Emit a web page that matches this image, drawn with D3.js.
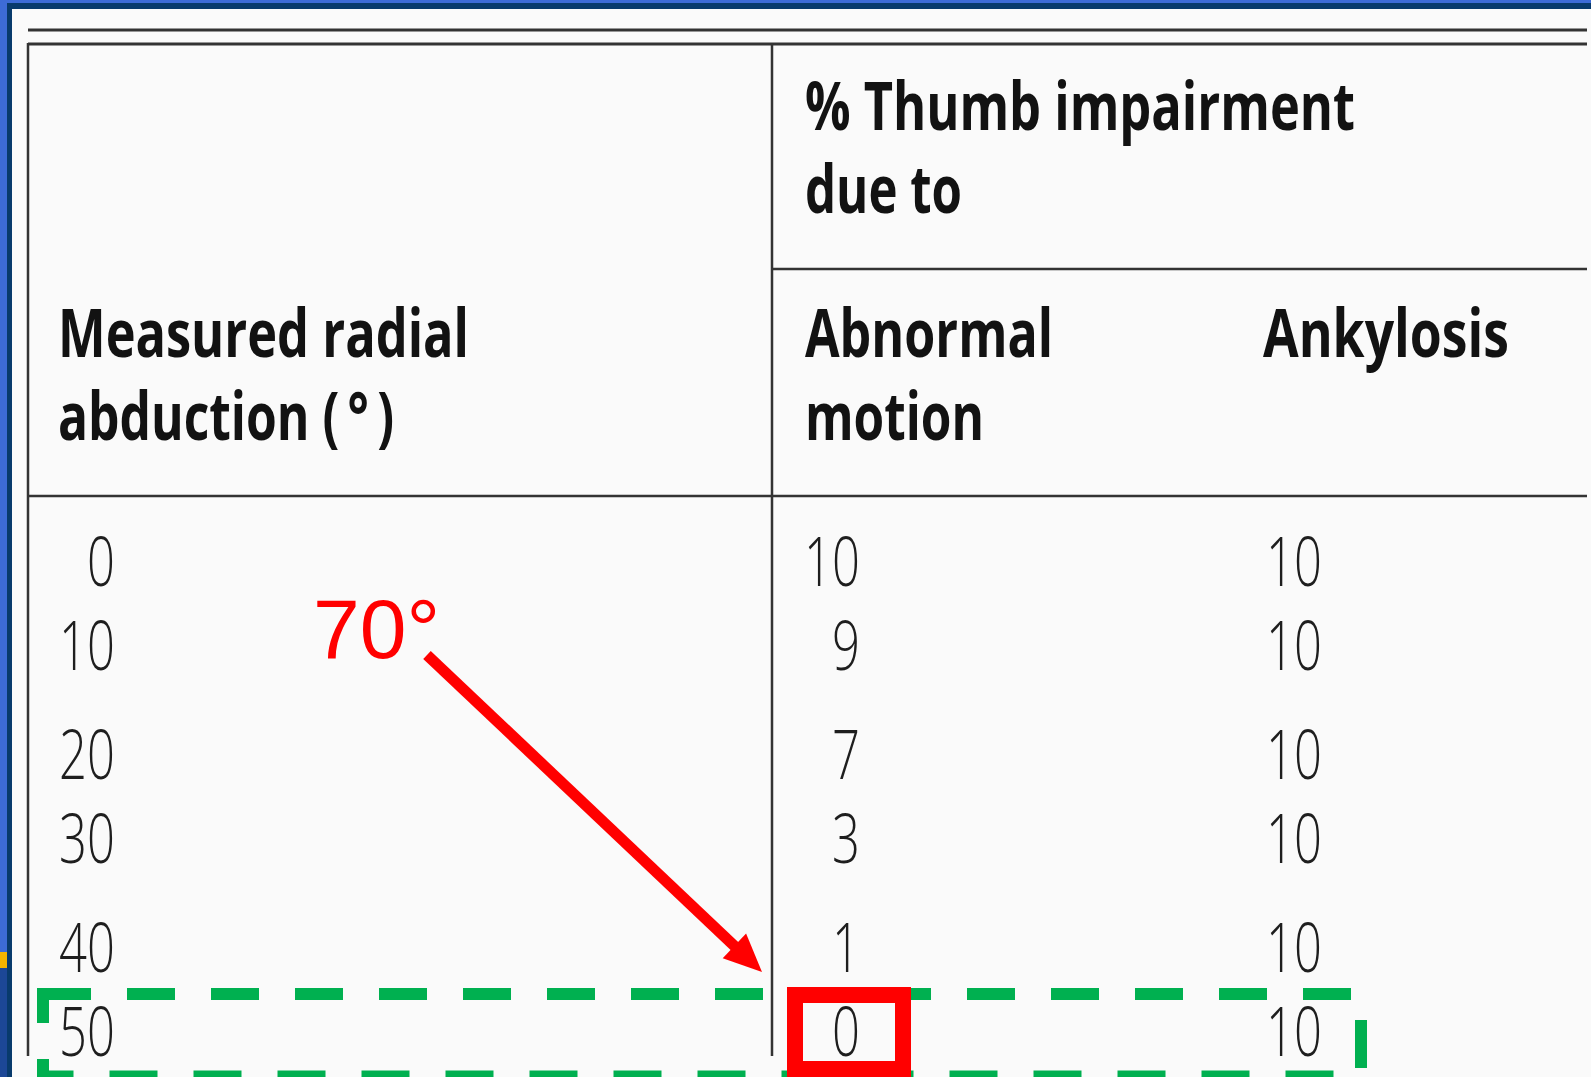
<!DOCTYPE html>
<html>
<head>
<meta charset="UTF-8">
<script src="https://d3js.org/d3.v7.min.js"></script>
<style>
  html, body { margin: 0; padding: 0; background: #fafafa; overflow: hidden; }
  svg { display: block; }
</style>
</head>
<body>
<svg></svg>
<script>
// table values
const angles = [0, 10, 20, 30, 40, 50];
const abnormalMotion = [10, 9, 7, 3, 1, 0];
const ankylosis = [10, 10, 10, 10, 10, 10];
const headerLeft = ["Measured radial", "abduction (\u2009°\u2009)"];
const headerGroup = ["% Thumb impairment", "due to"];
const headerAbn = ["Abnormal", "motion"];
const headerAnk = ["Ankylosis"];
const callout = "70°";
const highlightRow = 5;

let width = 1591, height = 1077;

let svg = d3.select("svg")
    .attr("width", width)
    .attr("height", height);

// slide frame
svg.append("rect").attr("width", width).attr("height", height).attr("fill", "#3d6bd6");
svg.append("rect").attr("x", 0).attr("y", 968).attr("width", 7).attr("height", height).attr("fill", "#1c4796");
svg.append("rect").attr("x", 0).attr("y", 952).attr("width", 7).attr("height", 16).attr("fill", "#f5b400");
svg.append("rect").attr("x", 7).attr("y", 3).attr("width", width).attr("height", height).attr("fill", "#083a6c");
svg.append("rect").attr("x", 12).attr("y", 9).attr("width", width).attr("height", height).attr("fill", "#fafafa");

// rows come in pairs
let pairY = d3.scalePoint().domain([0, 1, 2]).range([586, 972]);
let rowY = i => pairY(Math.floor(i / 2)) + (i % 2) * 84;

let colX = d3.scaleOrdinal()
    .domain(["angle", "abn", "ank"])
    .range([115, 860, 1322]);

let rules = svg.append("g").attr("stroke", "#333").attr("fill", "none");
rules.append("line").attr("x1", 28).attr("x2", 1587).attr("y1", 30).attr("y2", 30).attr("stroke-width", 3);
rules.append("line").attr("x1", 28).attr("x2", 1587).attr("y1", 44).attr("y2", 44).attr("stroke-width", 3);
rules.append("line").attr("x1", 28).attr("x2", 28).attr("y1", 43).attr("y2", 1056).attr("stroke-width", 2.5);
rules.append("line").attr("x1", 772).attr("x2", 772).attr("y1", 43).attr("y2", 1056).attr("stroke-width", 2.5);
rules.append("line").attr("x1", 772).attr("x2", 1587).attr("y1", 269).attr("y2", 269).attr("stroke-width", 2.5);
rules.append("line").attr("x1", 28).attr("x2", 1587).attr("y1", 496).attr("y2", 496).attr("stroke-width", 2.5);

// header text, one text element per cell
function header(lines, x, y0, widths) {
    svg.append("text")
        .style("font-family", "'Open Sans', sans-serif")
        .style("font-weight", 700)
        .style("font-size", "66px")
        .attr("fill", "#121212")
        .selectAll("tspan")
        .data(lines)
        .join("tspan")
        .attr("x", x)
        .attr("y", (d, i) => y0 + i * 83)
        .attr("textLength", (d, i) => widths[i])
        .attr("lengthAdjust", "spacingAndGlyphs")
        .text(d => d);
}
header(headerLeft, 58, 357, [411, 336]);
header(headerGroup, 805, 130, [550, 157]);
header(headerAbn, 805, 357, [248, 179]);
header(headerAnk, 1263, 357, [246]);

// body numbers
let cols = [["angle", angles], ["abn", abnormalMotion], ["ank", ankylosis]];
cols.forEach(([key, values]) => {
    svg.append("g").selectAll("text")
        .data(values)
        .join("text")
        .attr("transform", (d, i) => `translate(${colX(key)},${rowY(i)}) scale(0.72,1)`)
        .attr("text-anchor", "end")
        .style("font-family", "'Open Sans', sans-serif")
        .style("font-weight", 350)
        .style("font-size", "68px")
        .style("font-variant-numeric", "tabular-nums")
        .attr("fill", "#1e1e1e")
        .text(d => d);
});

// green dashed row highlight
svg.append("rect")
    .attr("x", 43)
    .attr("y", rowY(highlightRow) - 62)
    .attr("width", 1318)
    .attr("height", 82.5)
    .attr("fill", "none")
    .attr("stroke", "#00b050")
    .attr("stroke-width", 12)
    .attr("stroke-dasharray", "48 36");

// red box on the abnormal motion value
svg.append("rect")
    .attr("x", 795)
    .attr("y", rowY(highlightRow) - 61)
    .attr("width", 108)
    .attr("height", 74)
    .attr("fill", "none")
    .attr("stroke", "#ff0000")
    .attr("stroke-width", 16);

// callout + arrow
svg.append("text")
    .attr("x", 313)
    .attr("y", 658)
    .style("font-family", "'Liberation Sans', Arial, sans-serif")
    .style("font-size", "84px")
    .attr("fill", "#ff0000")
    .text(callout);

let start = [427, 655], tip = [762, 972];
let ang = Math.atan2(tip[1] - start[1], tip[0] - start[0]);
let headLen = 38, headW = 34;
let base = [tip[0] - headLen * Math.cos(ang), tip[1] - headLen * Math.sin(ang)];
svg.append("line")
    .attr("x1", start[0]).attr("y1", start[1])
    .attr("x2", base[0] + 4 * Math.cos(ang)).attr("y2", base[1] + 4 * Math.sin(ang))
    .attr("stroke", "#ff0000")
    .attr("stroke-width", 11);
let px = -Math.sin(ang) * headW / 2, py = Math.cos(ang) * headW / 2;
svg.append("path")
    .attr("d", d3.line()([tip, [base[0] + px, base[1] + py], [base[0] - px, base[1] - py]]) + "Z")
    .attr("fill", "#ff0000");
</script>
</body>
</html>
